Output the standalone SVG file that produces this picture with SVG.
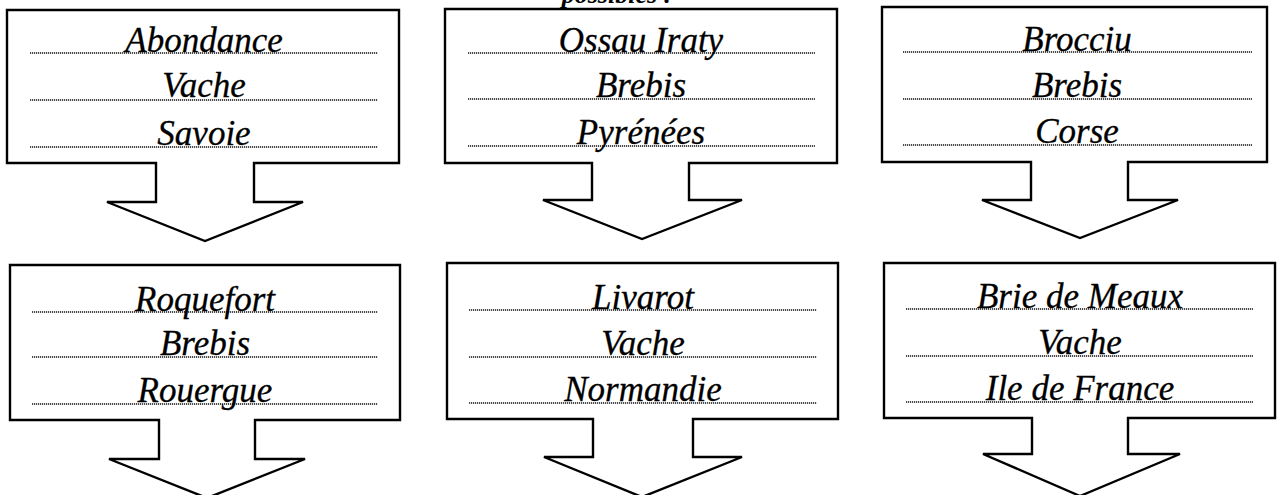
<svg xmlns="http://www.w3.org/2000/svg" width="1279" height="495" viewBox="0 0 1279 495">
<style>
.shape{fill:#fff;stroke:#000;stroke-width:2.4;stroke-linejoin:miter}
.dot{stroke:#111;stroke-width:1.4;stroke-dasharray:1.2 0.8}
.t{font-family:"Liberation Serif","Times New Roman",serif;font-style:italic;font-size:35px;fill:#000;stroke:#000;stroke-width:0.3;text-anchor:middle}
.top{font-family:"Liberation Serif","Times New Roman",serif;font-style:italic;font-weight:bold;font-size:26px;fill:#000;text-anchor:middle}
</style>
<rect width="1279" height="495" fill="#fff"/>
<text class="top" x="617" y="3">possibles :</text>
<g id="connectors"/>
<g id="n1">
<path class="shape" d="M7,10 H399 V163 H254 V202 H303 L205,241 L107,202 H156 V163 H7 Z"/>
<line class="dot" x1="30" y1="53" x2="378" y2="53"/>
<line class="dot" x1="30" y1="100" x2="378" y2="100"/>
<line class="dot" x1="30" y1="147" x2="378" y2="147"/>
<text class="t" x="204" y="52">Abondance</text>
<text class="t" x="204" y="97">Vache</text>
<text class="t" x="204" y="145">Savoie</text>
</g>
<g id="n2">
<path class="shape" d="M445,9 H837 V163 H689 V200 H742 L642,239 L543,200 H592 V163 H445 Z"/>
<line class="dot" x1="468" y1="53" x2="815" y2="53"/>
<line class="dot" x1="468" y1="99" x2="815" y2="99"/>
<line class="dot" x1="468" y1="146" x2="815" y2="146"/>
<text class="t" x="641" y="52">Ossau Iraty</text>
<text class="t" x="641" y="97">Brebis</text>
<text class="t" x="641" y="144">Pyrénées</text>
</g>
<g id="n3">
<path class="shape" d="M882,7 H1267 V162 H1128 V200 H1178 L1080,238 L982,200 H1031 V162 H882 Z"/>
<line class="dot" x1="903" y1="52" x2="1252" y2="52"/>
<line class="dot" x1="903" y1="99" x2="1252" y2="99"/>
<line class="dot" x1="903" y1="145" x2="1252" y2="145"/>
<text class="t" x="1077" y="51">Brocciu</text>
<text class="t" x="1077" y="97">Brebis</text>
<text class="t" x="1077" y="143">Corse</text>
</g>
<g id="n4">
<path class="shape" d="M10,265 H400 V420 H255 V459 H305 L207,498 L109,459 H159 V420 H10 Z"/>
<line class="dot" x1="32" y1="312" x2="378" y2="312"/>
<line class="dot" x1="32" y1="357" x2="378" y2="357"/>
<line class="dot" x1="32" y1="404" x2="378" y2="404"/>
<text class="t" x="205" y="311">Roquefort</text>
<text class="t" x="205" y="355">Brebis</text>
<text class="t" x="205" y="402">Rouergue</text>
</g>
<g id="n5">
<path class="shape" d="M447,263 H838 V419 H693 V457 H742 L642,497 L544,457 H593 V419 H447 Z"/>
<line class="dot" x1="469" y1="310" x2="817" y2="310"/>
<line class="dot" x1="469" y1="357" x2="817" y2="357"/>
<line class="dot" x1="469" y1="403" x2="817" y2="403"/>
<text class="t" x="643" y="309">Livarot</text>
<text class="t" x="643" y="355">Vache</text>
<text class="t" x="643" y="401">Normandie</text>
</g>
<g id="n6">
<path class="shape" d="M884,263 H1275 V418 H1128 V454 H1180 L1080,496 L983,454 H1032 V418 H884 Z"/>
<line class="dot" x1="906" y1="309" x2="1253" y2="309"/>
<line class="dot" x1="906" y1="356" x2="1253" y2="356"/>
<line class="dot" x1="906" y1="402" x2="1253" y2="402"/>
<text class="t" x="1080" y="308">Brie de Meaux</text>
<text class="t" x="1080" y="354">Vache</text>
<text class="t" x="1080" y="400">Ile de France</text>
</g>
</svg>
